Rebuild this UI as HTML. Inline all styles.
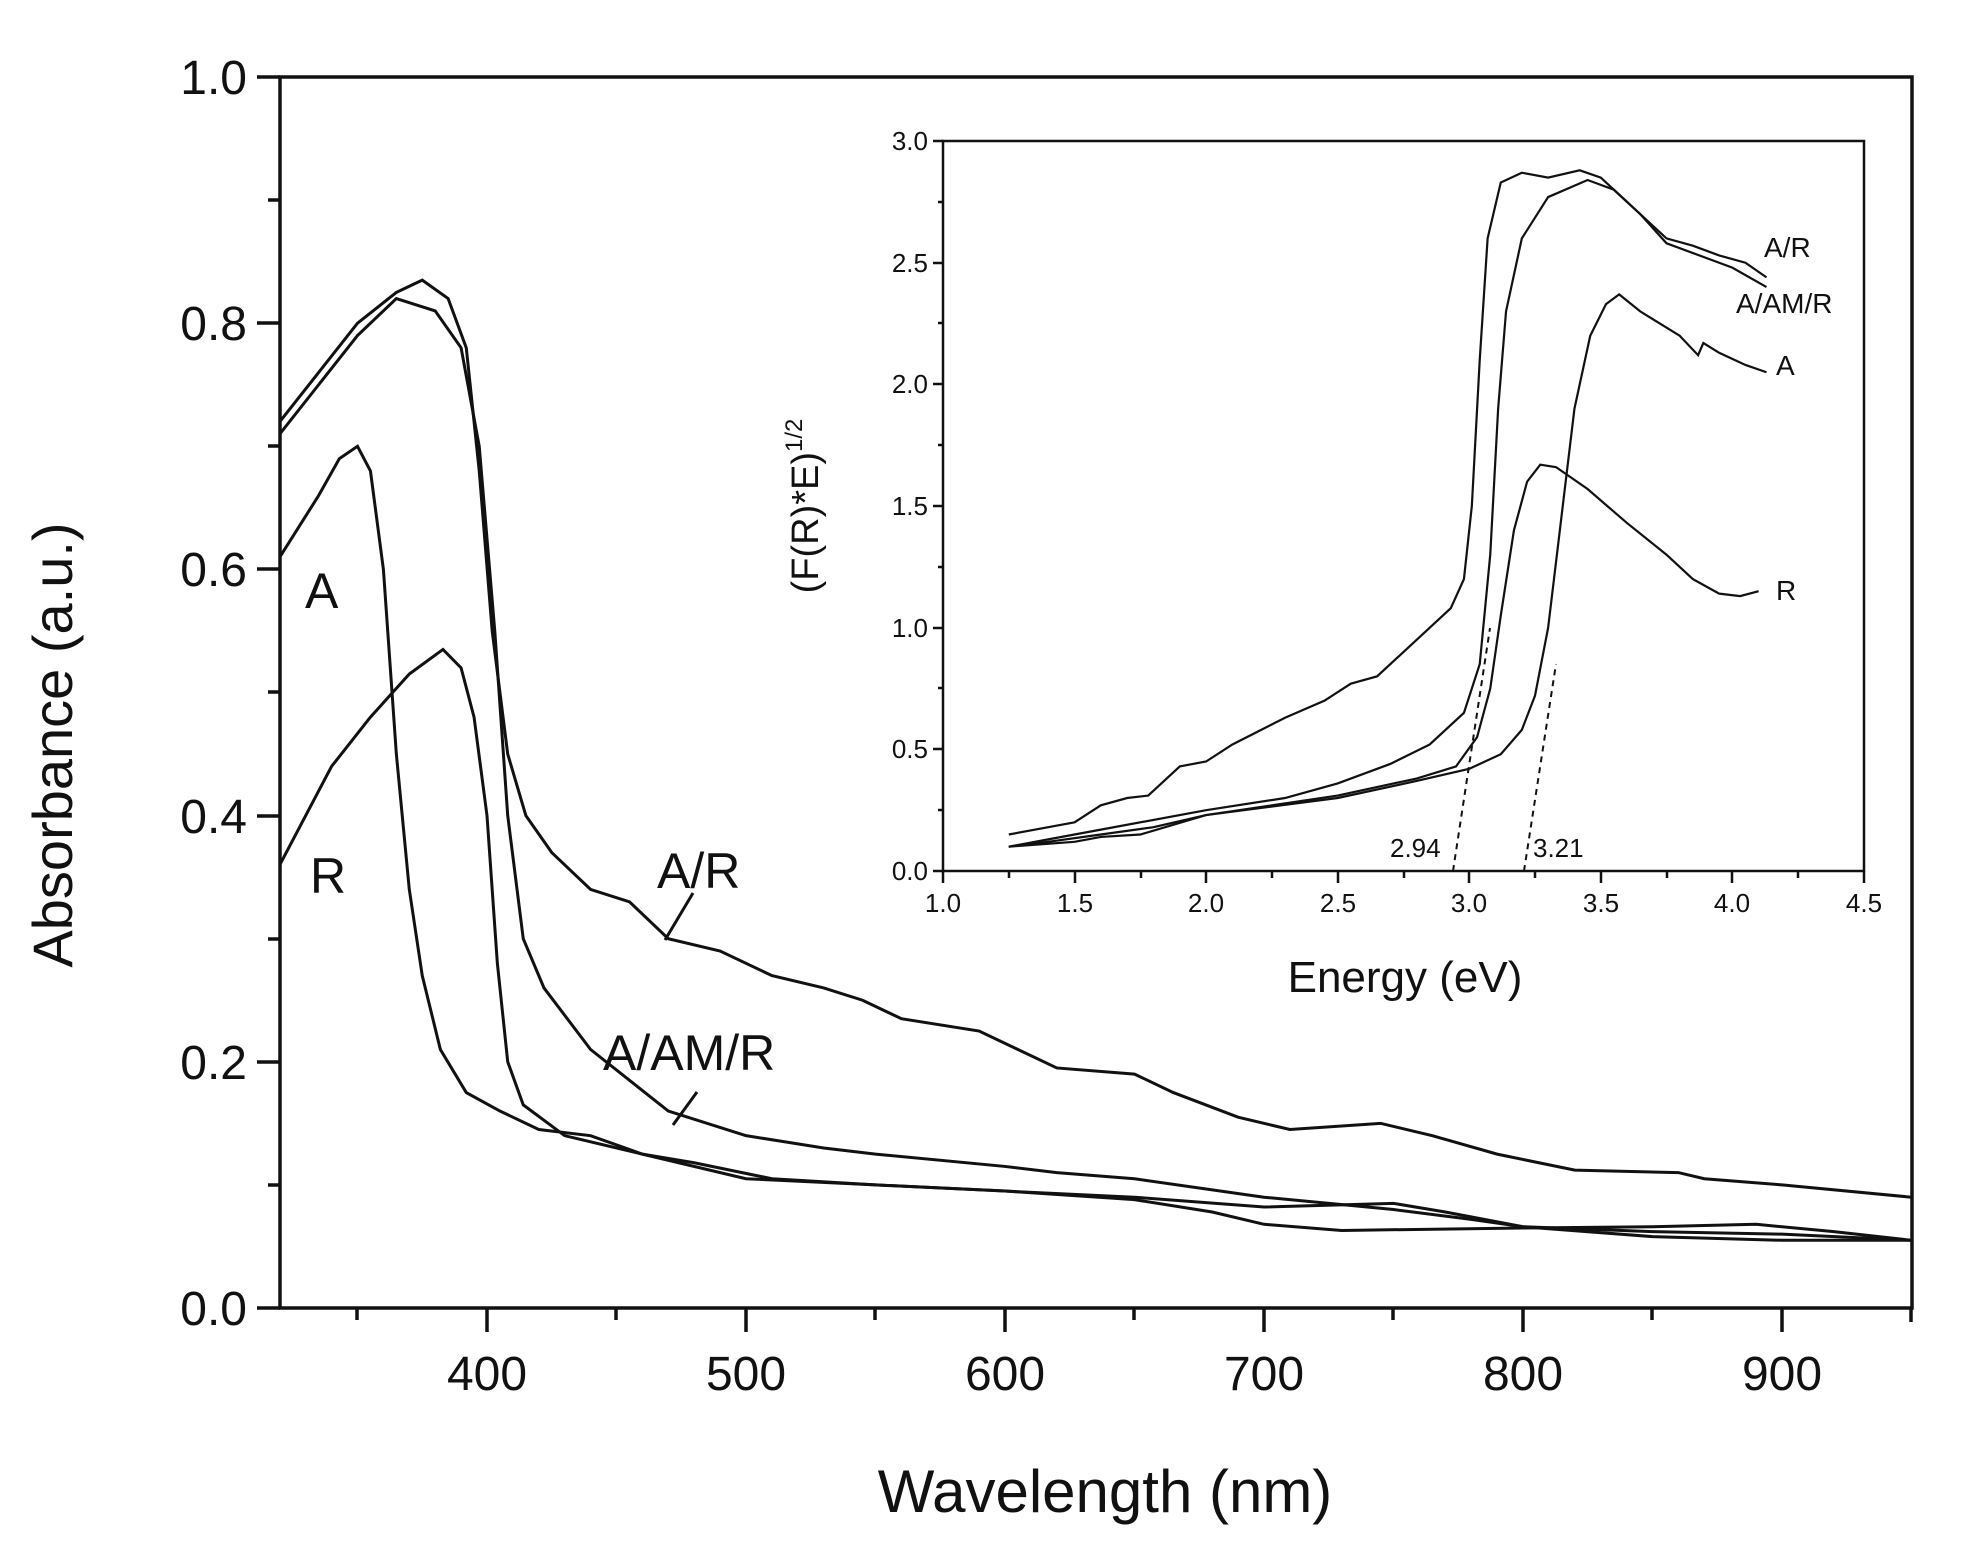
<!DOCTYPE html>
<html><head><meta charset="utf-8"><style>
html,body{margin:0;padding:0;background:#fff}
svg{display:block}
text{font-family:"Liberation Sans",Arial,sans-serif;fill:#111}
</style></head><body>
<svg width="1962" height="1565" viewBox="0 0 1962 1565" xmlns="http://www.w3.org/2000/svg">
<rect width="1962" height="1565" fill="#fff"/>
<g stroke="#111" stroke-width="3.5" fill="none">
<rect x="280" y="77" width="1632" height="1231"/>
<path d="M257 77H280M257 323H280M257 569H280M257 816H280M257 1062H280M257 1308H280"/>
<path d="M268 200H280M268 446H280M268 692H280M268 939H280M268 1185H280"/>
<path d="M487 1308V1332M746 1308V1332M1005 1308V1332M1264 1308V1332M1523 1308V1332M1782 1308V1332"/>
<path d="M357 1308V1320M616 1308V1320M875 1308V1320M1134 1308V1320M1393 1308V1320M1652 1308V1320M1911 1308V1322"/>
</g>
<g font-size="48" text-anchor="end">
<text x="247" y="94">1.0</text><text x="247" y="340">0.8</text><text x="247" y="586">0.6</text>
<text x="247" y="833">0.4</text><text x="247" y="1079">0.2</text><text x="247" y="1325">0.0</text>
</g>
<g font-size="48" text-anchor="middle">
<text x="487" y="1390">400</text><text x="746" y="1390">500</text><text x="1005" y="1390">600</text>
<text x="1264" y="1390">700</text><text x="1523" y="1390">800</text><text x="1782" y="1390">900</text>
</g>
<text x="1105" y="1512" font-size="60" text-anchor="middle">Wavelength (nm)</text>
<text transform="translate(72,745) rotate(-90)" font-size="56" text-anchor="middle">Absorbance (a.u.)</text>

<g transform="matrix(2.59 0 0 -1231 -549 1308)" fill="none" stroke="#111" stroke-width="3">
<polyline vector-effect="non-scaling-stroke" points="320,0.72 335,0.76 350,0.8 365,0.825 375,0.835 385,0.82 392,0.78 397,0.68 402,0.55 408,0.45 415,0.40 425,0.37 440,0.34 455,0.33 470,0.30 490,0.29 510,0.27 530,0.26 545,0.25 560,0.235 590,0.225 605,0.21 620,0.195 650,0.19 665,0.175 690,0.155 710,0.145 745,0.15 765,0.14 790,0.125 820,0.112 860,0.11 870,0.105 900,0.1 950,0.09"/>
<polyline vector-effect="non-scaling-stroke" points="320,0.71 335,0.75 350,0.79 365,0.82 380,0.81 390,0.78 397,0.7 403,0.55 408,0.4 414,0.3 422,0.26 440,0.21 470,0.16 500,0.14 530,0.13 550,0.125 600,0.115 620,0.11 650,0.105 700,0.09 750,0.08 780,0.072 800,0.066 850,0.062 900,0.06 950,0.055"/>
<polyline vector-effect="non-scaling-stroke" points="320,0.61 335,0.66 343,0.69 350,0.70 355,0.68 360,0.6 365,0.45 370,0.34 375,0.27 382,0.21 392,0.175 405,0.16 420,0.145 440,0.14 460,0.125 500,0.105 550,0.1 600,0.095 650,0.088 680,0.078 700,0.068 730,0.063 800,0.065 850,0.066 890,0.068 920,0.062 950,0.055"/>
<polyline vector-effect="non-scaling-stroke" points="320,0.36 330,0.4 340,0.44 355,0.48 370,0.515 383,0.535 390,0.52 395,0.48 400,0.4 404,0.28 408,0.2 414,0.165 430,0.14 460,0.125 480,0.118 510,0.105 550,0.1 600,0.095 650,0.09 700,0.082 750,0.085 770,0.078 800,0.066 850,0.058 900,0.055 950,0.055"/>
</g>
<g font-size="50">
<text x="305" y="608">A</text>
<text x="310" y="893">R</text>
<text x="657" y="888">A/R</text>
<text x="603" y="1070">A/AM/R</text>
</g>
<g stroke="#111" stroke-width="3">
<path d="M693 893L665 940"/>
<path d="M697 1092L673 1125"/>
</g>

<g stroke="#111" stroke-width="2.5" fill="none">
<rect x="943" y="141" width="921" height="730"/>
<path d="M933 141H943M933 263H943M933 384H943M933 506H943M933 628H943M933 749H943M933 871H943"/>
<path d="M938 202H943M938 323H943M938 445H943M938 567H943M938 688H943M938 810H943"/>
<path d="M943 871V883M1075 871V883M1206 871V883M1338 871V883M1469 871V883M1601 871V883M1732 871V883M1864 871V883"/>
<path d="M1009 871V878M1141 871V878M1272 871V878M1404 871V878M1535 871V878M1667 871V878M1798 871V878"/>
</g>
<g font-size="26" text-anchor="end">
<text x="928" y="150">3.0</text><text x="928" y="272">2.5</text><text x="928" y="393">2.0</text>
<text x="928" y="515">1.5</text><text x="928" y="637">1.0</text><text x="928" y="758">0.5</text><text x="928" y="880">0.0</text>
</g>
<g font-size="26" text-anchor="middle">
<text x="943" y="912">1.0</text><text x="1075" y="912">1.5</text><text x="1206" y="912">2.0</text>
<text x="1338" y="912">2.5</text><text x="1469" y="912">3.0</text><text x="1601" y="912">3.5</text>
<text x="1732" y="912">4.0</text><text x="1864" y="912">4.5</text>
</g>
<text x="1405" y="992" font-size="44" text-anchor="middle">Energy (eV)</text>
<text transform="translate(818,506) rotate(-90)" font-size="38" text-anchor="middle">(F(R)*E)<tspan font-size="24" dy="-16">1/2</tspan></text>

<g transform="matrix(263.1 0 0 -243.3 679.9 871)" fill="none" stroke="#111" stroke-width="2.2">
<polyline vector-effect="non-scaling-stroke" points="1.25,0.15 1.4,0.18 1.5,0.2 1.6,0.27 1.7,0.3 1.78,0.31 1.9,0.43 2.0,0.45 2.1,0.52 2.3,0.63 2.45,0.7 2.55,0.77 2.65,0.8 2.75,0.9 2.85,1.0 2.93,1.08 2.98,1.2 3.01,1.5 3.04,2.1 3.07,2.6 3.12,2.83 3.2,2.87 3.3,2.85 3.42,2.88 3.5,2.85 3.6,2.75 3.75,2.6 3.85,2.57 3.95,2.53 4.05,2.5 4.13,2.44"/>
<polyline vector-effect="non-scaling-stroke" points="1.25,0.1 1.4,0.13 1.6,0.17 2.0,0.25 2.3,0.3 2.5,0.36 2.7,0.44 2.85,0.52 2.98,0.65 3.04,0.85 3.08,1.3 3.11,1.9 3.14,2.3 3.2,2.6 3.3,2.77 3.45,2.84 3.55,2.8 3.65,2.7 3.75,2.58 3.9,2.52 4.0,2.48 4.13,2.4"/>
<polyline vector-effect="non-scaling-stroke" points="1.25,0.1 1.4,0.12 1.6,0.15 1.8,0.18 2.0,0.23 2.5,0.3 2.8,0.37 3.0,0.42 3.12,0.48 3.2,0.58 3.25,0.72 3.3,1.0 3.35,1.45 3.4,1.9 3.46,2.2 3.52,2.33 3.57,2.37 3.65,2.3 3.8,2.2 3.87,2.12 3.89,2.17 3.95,2.13 4.05,2.08 4.13,2.05"/>
<polyline vector-effect="non-scaling-stroke" points="1.25,0.1 1.5,0.12 1.6,0.14 1.75,0.15 2.0,0.23 2.5,0.31 2.8,0.38 2.95,0.43 3.03,0.55 3.08,0.75 3.12,1.05 3.17,1.4 3.22,1.6 3.27,1.67 3.33,1.66 3.45,1.57 3.6,1.43 3.75,1.3 3.85,1.2 3.95,1.14 4.03,1.13 4.1,1.15"/>
</g>
<g stroke="#111" stroke-width="2" stroke-dasharray="6,5">
<path d="M1453 871L1490 628"/>
<path d="M1524 871L1556 664"/>
</g>
<g font-size="28">
<text x="1764" y="257">A/R</text>
<text x="1736" y="313">A/AM/R</text>
<text x="1776" y="375">A</text>
<text x="1776" y="600">R</text>
</g>
<g font-size="26">
<text x="1390" y="857">2.94</text>
<text x="1533" y="857">3.21</text>
</g>
</svg>
</body></html>
